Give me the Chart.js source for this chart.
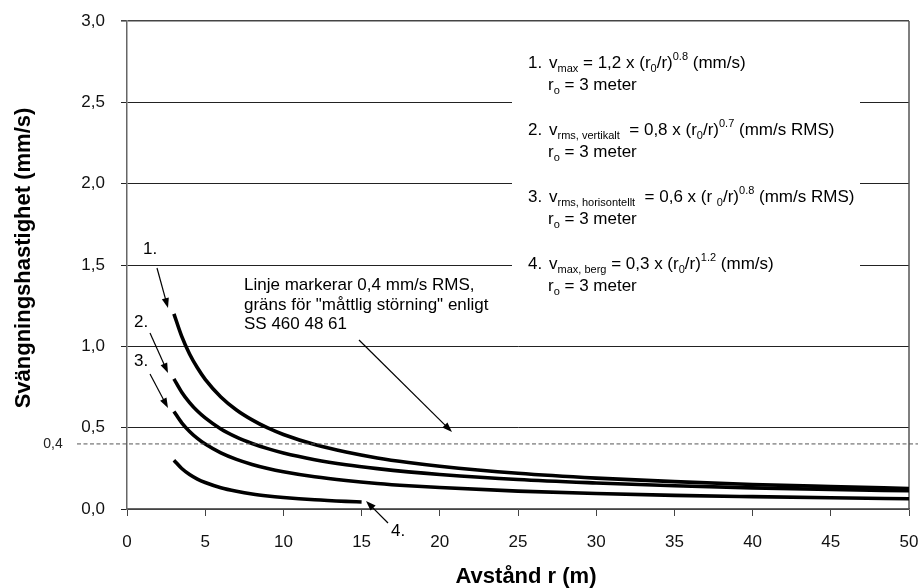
<!DOCTYPE html>
<html>
<head>
<meta charset="utf-8">
<script src="https://cdn.jsdelivr.net/npm/chart.js@4.4.1/dist/chart.umd.min.js"></script>
<style>
  html, body { margin: 0; padding: 0; background: #ffffff; }
  #wrap { width: 918px; height: 588px; }
</style>
</head>
<body>
<div id="wrap"><canvas id="c" width="918" height="588"></canvas></div>
<script>
// ---- data ----
const rValues = [3, 3.5, 4, 4.5, 5, 6, 7, 8, 9, 10, 12, 14, 16, 18, 20, 25, 30, 35, 40, 45, 50];
const vMax      = [1.200, 1.061, 0.953, 0.868, 0.797, 0.689, 0.609, 0.548, 0.498, 0.458, 0.396, 0.350, 0.314, 0.286, 0.263, 0.220, 0.190, 0.168, 0.151, 0.138, 0.126];
const vRmsVert  = [0.800, 0.718, 0.654, 0.602, 0.560, 0.492, 0.442, 0.403, 0.371, 0.344, 0.303, 0.272, 0.248, 0.228, 0.212, 0.181, 0.160, 0.143, 0.130, 0.120, 0.112];
const vRmsHor   = [0.600, 0.530, 0.477, 0.434, 0.399, 0.345, 0.305, 0.274, 0.249, 0.229, 0.198, 0.175, 0.157, 0.143, 0.132, 0.110, 0.095, 0.084, 0.076, 0.069, 0.063];
const rBerg     = [3, 3.5, 4, 4.5, 5, 6, 7, 8, 9, 10, 12, 14, 15];
const vMaxBerg  = [0.300, 0.249, 0.212, 0.184, 0.163, 0.131, 0.109, 0.092, 0.080, 0.071, 0.057, 0.047, 0.043];
const limitValue = 0.4;
const limitLabel = '0,4';
const xTickValues = [0, 5, 10, 15, 20, 25, 30, 35, 40, 45, 50];
const xTickLabels = ['0', '5', '10', '15', '20', '25', '30', '35', '40', '45', '50'];
const yTickValues = [0, 0.5, 1, 1.5, 2, 2.5, 3];
const yTickLabels = ['0,0', '0,5', '1,0', '1,5', '2,0', '2,5', '3,0'];
const seriesNames = ['1.', '2.', '3.', '4.'];
const xTitle = 'Avst\u00e5nd r (m)';
const yTitle = 'Sv\u00e4ngningshastighet (mm/s)';

function pts(xs, ys) { return xs.map((x, i) => ({ x: x, y: ys[i] })); }

const FONT = 'Arial, "Liberation Sans", sans-serif';

function drawArrow(ctx, x1, y1, x2, y2) {
  const ang = Math.atan2(y2 - y1, x2 - x1);
  const hl = 10, hw = 3.6;
  ctx.save();
  ctx.strokeStyle = '#000'; ctx.fillStyle = '#000'; ctx.lineWidth = 1.2;
  ctx.beginPath();
  ctx.moveTo(x1, y1);
  ctx.lineTo(x2 - Math.cos(ang) * hl * 0.8, y2 - Math.sin(ang) * hl * 0.8);
  ctx.stroke();
  ctx.beginPath();
  ctx.moveTo(x2, y2);
  ctx.lineTo(x2 - Math.cos(ang) * hl - Math.sin(ang) * hw, y2 - Math.sin(ang) * hl + Math.cos(ang) * hw);
  ctx.lineTo(x2 - Math.cos(ang) * hl + Math.sin(ang) * hw, y2 - Math.sin(ang) * hl - Math.cos(ang) * hw);
  ctx.closePath();
  ctx.fill();
  ctx.restore();
}

function drawRich(ctx, x, baseline, segs) {
  let cx = x;
  ctx.save();
  ctx.fillStyle = '#000';
  ctx.textBaseline = 'alphabetic';
  ctx.textAlign = 'left';
  for (const [t, k] of segs) {
    let size = 17, dy = 0;
    if (k === 'b') { size = 11; dy = 4; }
    if (k === 'p') { size = 11; dy = -8; }
    ctx.font = size + 'px ' + FONT;
    ctx.fillText(t, cx, baseline + dy);
    cx += ctx.measureText(t).width;
  }
  ctx.restore();
}

const decorPlugin = {
  id: 'decor',
  beforeDatasetsDraw(chart) {
    const { ctx, chartArea } = chart;
    ctx.save();
    ctx.fillStyle = '#ffffff';
    ctx.fillRect(512, 46, 348, 252);
    ctx.strokeStyle = '#555';
    ctx.lineWidth = 1.5;
    ctx.beginPath();
    ctx.moveTo(chartArea.right, chartArea.top);
    ctx.lineTo(chartArea.right, chartArea.bottom);
    ctx.stroke();
    ctx.restore();
  },
  afterDraw(chart) {
    const { ctx } = chart;
    const ys = chart.scales.y;
    const yLim = ys.getPixelForValue(limitValue);
    ctx.save();
    // dashed limit line
    ctx.strokeStyle = '#555';
    ctx.lineWidth = 1;
    ctx.setLineDash([4, 2.5]);
    ctx.beginPath();
    ctx.moveTo(77, yLim);
    ctx.lineTo(918, yLim);
    ctx.stroke();
    ctx.setLineDash([]);
    ctx.fillStyle = '#222';
    ctx.font = '14px ' + FONT;
    ctx.textAlign = 'center';
    ctx.textBaseline = 'middle';
    ctx.fillText(limitLabel, 53, yLim);

    // axis titles
    ctx.fillStyle = '#000';
    ctx.font = 'bold 22px ' + FONT;
    ctx.textAlign = 'center';
    ctx.textBaseline = 'middle';
    ctx.fillText(xTitle, 526, 577);
    ctx.save();
    ctx.translate(24, 258);
    ctx.rotate(-Math.PI / 2);
    ctx.fillText(yTitle, 0, 0);
    ctx.restore();

    // series labels and arrows
    ctx.fillStyle = '#000';
    ctx.font = '17px ' + FONT;
    ctx.textAlign = 'left';
    ctx.textBaseline = 'alphabetic';
    ctx.fillText(seriesNames[0], 143, 254);
    ctx.fillText(seriesNames[1], 134, 327);
    ctx.fillText(seriesNames[2], 134, 366);
    ctx.fillText(seriesNames[3], 391, 536);
    drawArrow(ctx, 157, 268, 168, 308);
    drawArrow(ctx, 150, 333, 168, 373);
    drawArrow(ctx, 150, 374, 168, 408);
    drawArrow(ctx, 388, 523, 366, 501);

    // limit note
    ctx.fillStyle = '#000';
    ctx.font = '17px ' + FONT;
    ctx.fillText('Linje markerar 0,4 mm/s RMS,', 244, 290);
    ctx.fillText('gr\u00e4ns f\u00f6r "m\u00e5ttlig st\u00f6rning" enligt', 244, 309.5);
    ctx.fillText('SS 460 48 61', 244, 329);
    drawArrow(ctx, 359, 340, 452, 432);
    ctx.restore();

    // formula block
    const xNum = 528, xTxt = 549;
    const rows = [
      { n: '1.', b: 68, segs: [['v', 'n'], ['max', 'b'], [' = 1,2 x (r', 'n'], ['0', 'b'], ['/r)', 'n'], ['0.8', 'p'], [' (mm/s)', 'n']] },
      { n: '2.', b: 135, segs: [['v', 'n'], ['rms, vertikalt', 'b'], ['  = 0,8 x (r', 'n'], ['0', 'b'], ['/r)', 'n'], ['0.7', 'p'], [' (mm/s RMS)', 'n']] },
      { n: '3.', b: 202, segs: [['v', 'n'], ['rms, horisontellt', 'b'], ['  = 0,6 x (r ', 'n'], ['0', 'b'], ['/r)', 'n'], ['0.8', 'p'], [' (mm/s RMS)', 'n']] },
      { n: '4.', b: 269, segs: [['v', 'n'], ['max, berg', 'b'], [' = 0,3 x (r', 'n'], ['0', 'b'], ['/r)', 'n'], ['1.2', 'p'], [' (mm/s)', 'n']] }
    ];
    for (const r of rows) {
      drawRich(ctx, xNum, r.b, [[r.n, 'n']]);
      drawRich(ctx, xTxt, r.b, r.segs);
      drawRich(ctx, 548, r.b + 22, [['r', 'n'], ['o', 'b'], [' = 3 meter', 'n']]);
    }
  }
};

const lineStyle = {
  borderColor: '#000',
  borderWidth: 3.6,
  pointRadius: 0,
  fill: false,
  cubicInterpolationMode: 'monotone',
  borderCapStyle: 'butt'
};

new Chart(document.getElementById('c'), {
  type: 'line',
  data: {
    datasets: [
      Object.assign({ label: seriesNames[0], data: pts(rValues, vMax) }, lineStyle),
      Object.assign({ label: seriesNames[1], data: pts(rValues, vRmsVert) }, lineStyle),
      Object.assign({ label: seriesNames[2], data: pts(rValues, vRmsHor) }, lineStyle),
      Object.assign({ label: seriesNames[3], data: pts(rBerg, vMaxBerg) }, lineStyle)
    ]
  },
  options: {
    responsive: false,
    animation: false,
    layout: { padding: { left: 0, right: 9, top: 21, bottom: 0 } },
    plugins: { legend: { display: false }, tooltip: { enabled: false } },
    scales: {
      x: {
        type: 'linear',
        min: 0, max: 50,
        afterFit(s) { s.height = 79; s.paddingLeft = 0; s.paddingRight = 0; },
        afterBuildTicks(s) { s.ticks = xTickValues.map(v => ({ value: v })); },
        ticks: {
          callback(v) { const i = xTickValues.indexOf(v); return i >= 0 ? xTickLabels[i] : ''; },
          color: '#111',
          font: { family: FONT, size: 17 },
          padding: 16,
          maxRotation: 0
        },
        grid: { display: true, drawOnChartArea: false, drawTicks: true, tickLength: 7, color: '#444', lineWidth: 1 },
        border: { display: true, color: '#666', width: 1.5 },
        title: { display: false, text: xTitle }
      },
      y: {
        type: 'linear',
        min: 0, max: 3,
        afterFit(s) { s.width = 127; s.paddingTop = 0; s.paddingBottom = 0; },
        afterBuildTicks(s) { s.ticks = yTickValues.map(v => ({ value: v })); },
        ticks: {
          callback(v) { const i = yTickValues.indexOf(v); return i >= 0 ? yTickLabels[i] : ''; },
          color: '#111',
          font: { family: FONT, size: 17 },
          padding: 16
        },
        grid: {
          display: true,
          drawTicks: true,
          tickLength: 6,
          color(c) { return c.tick && c.tick.value === 3 ? '#444' : '#222'; },
          lineWidth(c) { return c.tick && c.tick.value === 3 ? 1.6 : 1; }
        },
        border: { display: true, color: '#666', width: 1.5 },
        title: { display: false, text: yTitle }
      }
    }
  },
  plugins: [decorPlugin]
});
</script>
</body>
</html>
